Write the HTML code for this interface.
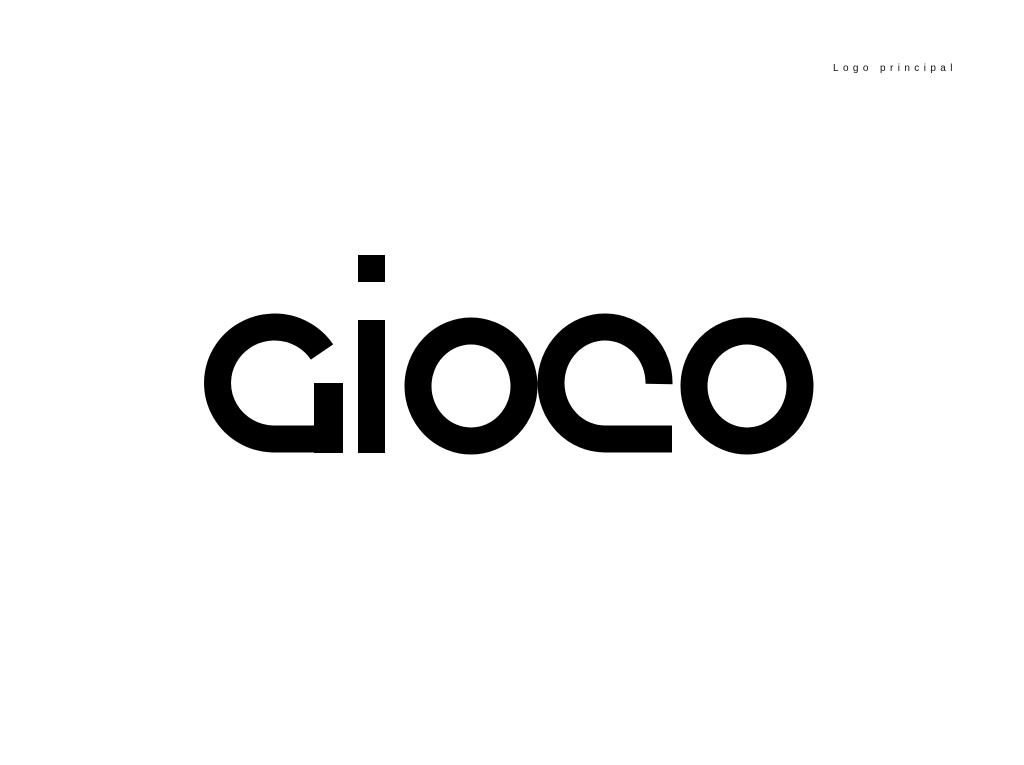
<!DOCTYPE html>
<html><head><meta charset="utf-8"><style>
html,body{margin:0;padding:0;background:#fff;width:1024px;height:765px;overflow:hidden}
.cap{position:absolute;left:833px;top:63px;font-family:"Liberation Sans",sans-serif;font-size:10px;letter-spacing:4.4px;color:#111}
svg{position:absolute;left:0;top:0}
</style></head><body>
<div class="cap">Logo principal</div>
<svg width="1024" height="765" role="img" aria-label="Gioco">
<title>Gioco</title>
<g fill="none" stroke="#000" stroke-width="27" stroke-linecap="butt">
 <path d="M 322 352 A 57 56 0 1 0 273 439 L 343 439"/>
 <path d="M 659 384 A 54 56 0 1 0 605 439 L 672 439"/>
 <ellipse cx="471" cy="386" rx="53" ry="55"/>
 <ellipse cx="747" cy="386" rx="53" ry="55"/>
</g>
<g fill="#000">
 <rect x="314" y="383" width="29" height="70"/>
 <rect x="358" y="255" width="27" height="27"/>
 <rect x="358" y="320" width="27" height="133"/>
</g>
</svg>
</body></html>
